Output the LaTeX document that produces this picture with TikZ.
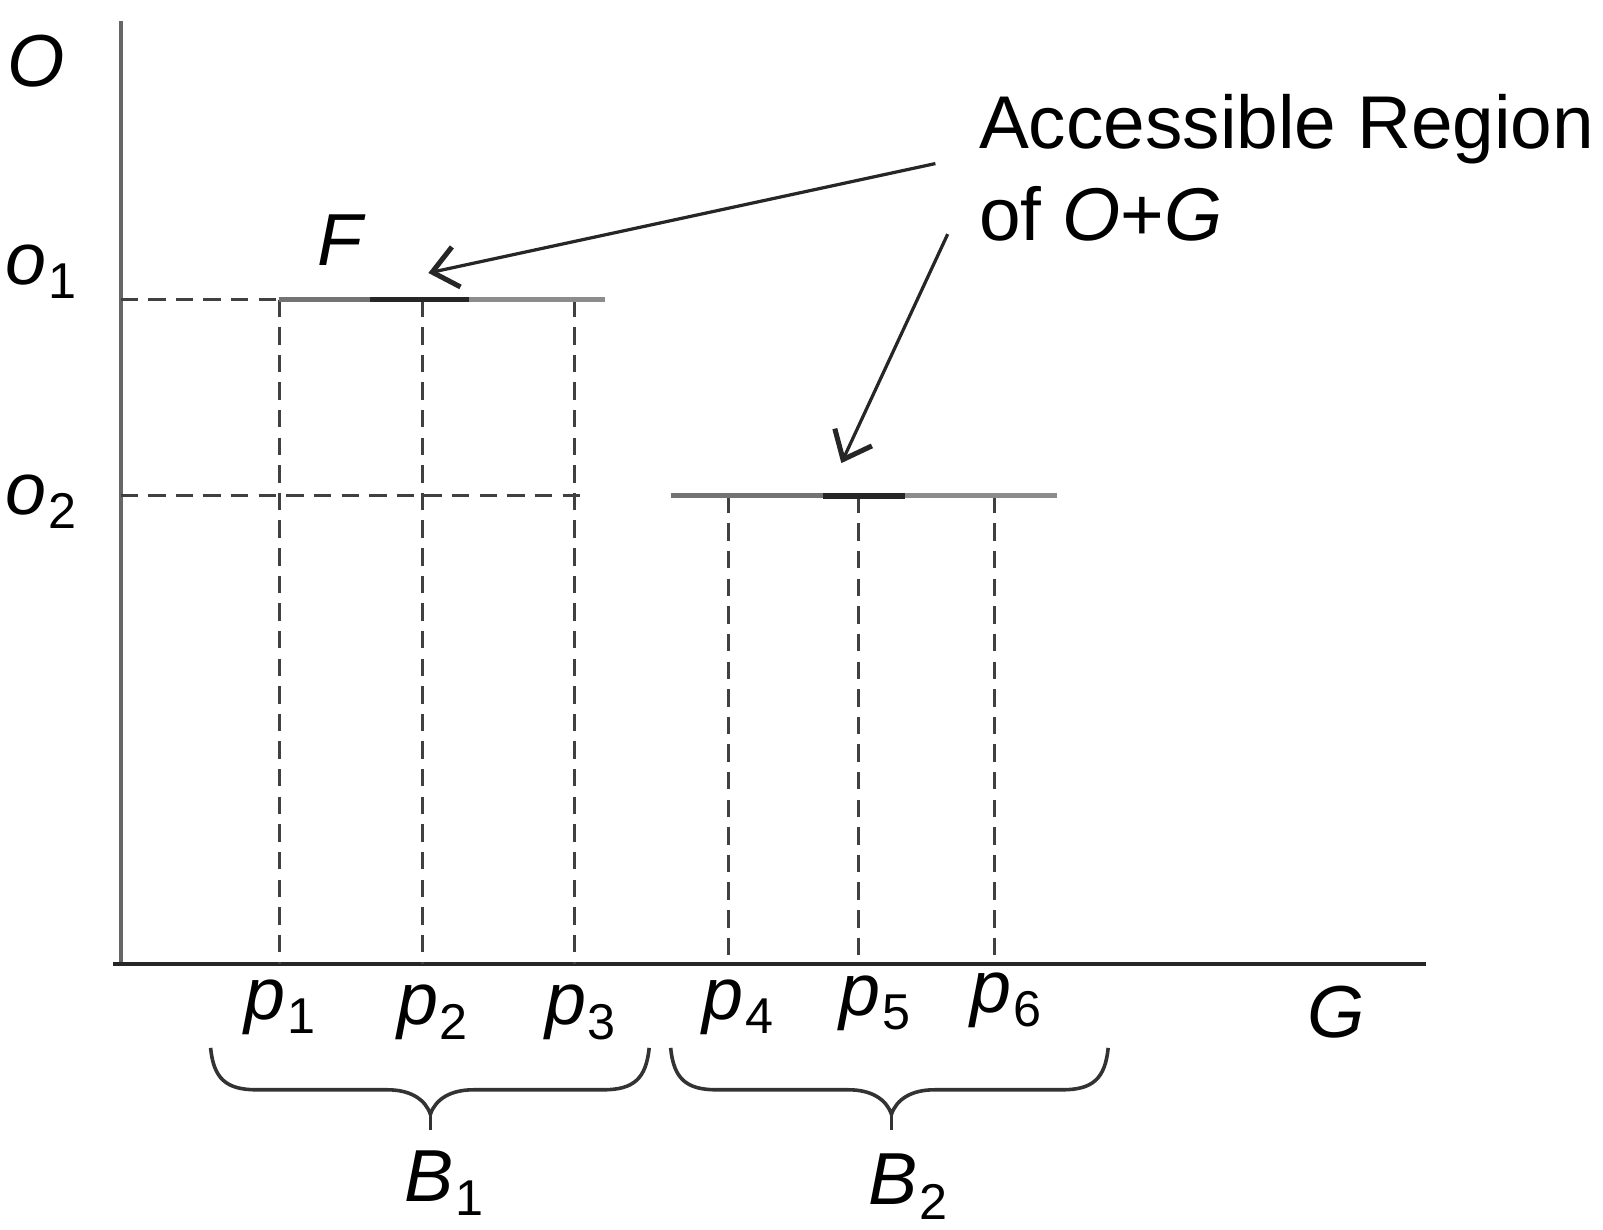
\documentclass[tikz,border=0pt]{standalone}
\usepackage{fontspec}
\setmainfont{Liberation Sans}
\usetikzlibrary{arrows.meta}
\newcommand\vsub[2]{\textit{#1}\kern0.02em\raisebox{-0.2em}{\fontsize{14}{14}\selectfont #2}}
\begin{document}
\begin{tikzpicture}[x=0.01cm,y=-0.01cm,
  axisline/.style={line width=1.1pt,draw=black!75},
  guide/.style={line width=0.8pt,draw=black!75,dash pattern=on 0.17cm off 0.10cm},
  levelline/.style={line width=1.3pt,draw=black!55},
  hotline/.style={line width=1.6pt,draw=black!85},
  lbl/.style={inner sep=0pt,font=\fontsize{20.5}{24}\selectfont},
  callout/.style={line width=0.9pt,draw=black!85,-{Straight Barb[length=0.24cm,width=0.4cm,line width=1.4pt]}},
  bracepath/.style={line width=1.0pt,draw=black!80}
]
\useasboundingbox (0,0) rectangle (1568,1203);

% axes
\coordinate (otop) at (118,21);
\coordinate (orig) at (118,945);
\coordinate (gl) at (111,943);
\coordinate (gr) at (1395,943);
\draw[axisline,draw=black!60] (otop) -- (orig);
\draw[axisline,draw=black!85] (gl) -- (gr);

% level coordinates
\coordinate (y1) at (118,293);
\coordinate (y2) at (118,485);
\foreach \n/\x in {1/273,2/413,3/562}{
  \coordinate (t\n) at (\x,293);
  \coordinate (b\n) at (\x,943);
}
\foreach \n/\x in {4/713,5/840,6/973}{
  \coordinate (t\n) at (\x,485);
  \coordinate (b\n) at (\x,943);
}
\coordinate (fa) at (362,293);
\coordinate (fb) at (459,293);
\coordinate (fe) at (592,293);
\coordinate (ga) at (656,485);
\coordinate (gb) at (805,485);
\coordinate (gc) at (885,485);
\coordinate (ge) at (1034,485);
\coordinate (y2e) at (575,485);

% dashed guides
\draw[guide] (y1) -- (t1);
\draw[guide] (y2) -- (y2e);
\foreach \n in {1,...,6}{\draw[guide] (t\n) -- (b\n);}

% level segments
\draw[levelline] (t1) -- (fa);
\draw[levelline,draw=black!45] (fb) -- (fe);
\draw[hotline] (fa) -- (fb);
\draw[levelline] (ga) -- (gb);
\draw[levelline,draw=black!45] (gc) -- (ge);
\draw[hotline] (gb) -- (gc);

% labels
\node[lbl,anchor=base] (lO) at (35,85) {\textit{O}};
\node[lbl,anchor=base] (lo1) at (40,278) {\vsub{o}{1}};
\node[lbl,anchor=base] (lo2) at (40,503) {\vsub{o}{2}};
\node[lbl,anchor=base] (lF) at (334,260) {\textit{F}};
\node[lbl,anchor=base] (lp1) at (274,997) {\vsub{p}{1}};
\node[lbl,anchor=base] (lp2) at (423,1002) {\vsub{p}{2}};
\node[lbl,anchor=base] (lp3) at (568,1002) {\vsub{p}{3}};
\node[lbl,anchor=base] (lp4) at (722,997) {\vsub{p}{4}};
\node[lbl,anchor=base] (lp5) at (856,993) {\vsub{p}{5}};
\node[lbl,anchor=base] (lp6) at (984,990) {\vsub{p}{6}};
\node[lbl,anchor=base] (lG) at (1307,1015) {\textit{G}};
\node[lbl,anchor=base] (lB1) at (434,1175) {\vsub{B}{1}};
\node[lbl,anchor=base] (lB2) at (888,1178) {\vsub{B}{2}};

\node[lbl,anchor=base west,font=\fontsize{20.8}{24}\selectfont] (acc1) at (957,145) {Accessible Region};
\node[lbl,anchor=base west,font=\fontsize{20.8}{24}\selectfont] (acc2) at (957,235) {of \textit{O}+\textit{G}};

% callout arrows
\coordinate (c1s) at (915,160);
\coordinate (c1e) at (419,267);
\coordinate (c2s) at (927,229);
\coordinate (c2e) at (823,453);
\draw[callout] (c1s) -- (c1e);
\draw[callout] (c2s) -- (c2e);

% braces
\draw[bracepath] (206,1025) .. controls (209,1055) and (221,1066) .. (251,1066) -- (379,1066) .. controls (401,1066) and (416,1075) .. (421,1090) .. controls (426,1075) and (441,1066) .. (463,1066) -- (590,1066) .. controls (620,1066) and (632,1055) .. (635,1025);
\draw[bracepath] (421,1090) -- (421,1105);
\draw[bracepath] (656,1025) .. controls (659,1055) and (671,1066) .. (701,1066) -- (830,1066) .. controls (852,1066) and (867,1075) .. (872,1090) .. controls (877,1075) and (892,1066) .. (914,1066) -- (1039,1066) .. controls (1069,1066) and (1081,1055) .. (1084,1025);
\draw[bracepath] (872,1090) -- (872,1105);
\end{tikzpicture}
\end{document}
